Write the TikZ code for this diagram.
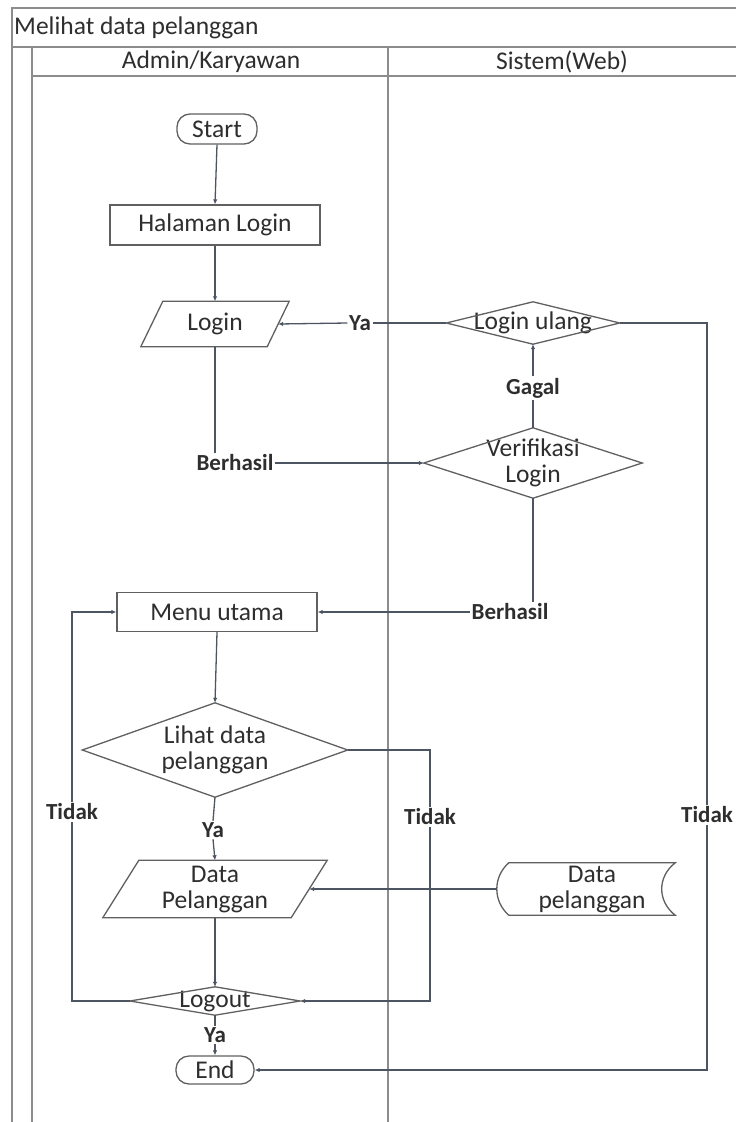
\documentclass[tikz,border=0pt]{standalone}
\usepackage{fontspec}
\setmainfont{Carlito}
\usetikzlibrary{arrows.meta,calc}
\definecolor{frm}{HTML}{8C8C8C}
\definecolor{ln}{HTML}{4D5563}
\definecolor{shp}{HTML}{606060}
\definecolor{txt}{HTML}{2E2E2E}
\begin{document}
\begin{tikzpicture}[x=1pt,y=-1pt,
  every node/.style={font=\fontsize{25.5}{26}\selectfont, text=txt},
  frame/.style={draw=frm, line width=1.8pt},
  box/.style={draw=shp, line width=1.3pt, inner sep=0pt},
  ghost/.style={draw=none, inner sep=0pt},
  term/.style={draw=shp, line width=1.3pt, rounded corners=13pt, inner sep=0pt},
  outl/.style={draw=shp, line width=1.3pt},
  conn/.style={draw=ln, line width=1.3pt},
  arr/.style={draw=ln, line width=1.3pt, -{Latex[length=5pt,width=4.5pt]}},
  lbl/.style={font=\bfseries\fontsize{23}{24}\selectfont, inner sep=1.5pt, fill=white, text=txt}
]
\useasboundingbox (0,0) rectangle (736,1122);
\fill[white] (0,0) rectangle (736,1122);

% frame / swimlanes
\draw[frame] (12,1122) -- (12,8) -- (736,8);
\draw[frame] (12,47) -- (736,47);
\draw[frame] (32,1122) -- (32,47);
\draw[frame] (32,76) -- (736,76);
\draw[frame] (388,47) -- (388,1122);
\node[anchor=west, inner sep=0pt] (title) at (14,28) {Melihat data pelanggan};
\node (h1) at (211,62) {Admin/Karyawan};
\node (h2) at (562,62) {Sistem(Web)};

% nodes
\node[term, minimum width=80pt, minimum height=30pt] (start) at (217,129) {Start};
\node[box, minimum width=210pt, minimum height=40pt] (hal) at (215,225) {Halaman Login};
\node[ghost, minimum width=126pt, minimum height=45pt] (login) at (215,324) {Login};
\draw[outl] ($(login.south west)+(-11,0)$) -- ($(login.south east)+(-11,0)$) -- ($(login.north east)+(11,0)$) -- ($(login.north west)+(11,0)$) -- cycle;

\node[ghost, minimum width=173pt, minimum height=42pt] (ulang) at (533,323) {Login ulang};
\draw[outl] (ulang.north) -- (ulang.east) -- (ulang.south) -- (ulang.west) -- cycle;

\node[ghost, minimum width=218pt, minimum height=70pt, align=center] (verif) at (533,463) {Verifikasi\\Login};
\draw[outl] (verif.north) -- (verif.east) -- (verif.south) -- (verif.west) -- cycle;

\node[box, minimum width=200pt, minimum height=39pt] (menu) at (217,612) {Menu utama};

\node[ghost, minimum width=265pt, minimum height=94pt, align=center] (lihat) at (215,750) {Lihat data\\pelanggan};
\draw[outl] (lihat.north) -- (lihat.east) -- (lihat.south) -- (lihat.west) -- cycle;

\node[ghost, minimum width=188pt, minimum height=57pt, align=center] (dp) at (215,889) {Data\\Pelanggan};
\draw[outl] ($(dp.south west)+(-18,0)$) -- ($(dp.south east)+(-18,0)$) -- ($(dp.north east)+(18,0)$) -- ($(dp.north west)+(18,0)$) -- cycle;

\node[ghost, minimum width=166pt, minimum height=52pt, align=center] (ds) at (592,889) {Data\\pelanggan};
\draw[outl] (ds.north west) -- (ds.north east)
  .. controls ($(ds.north east)+(-18,14)$) and ($(ds.south east)+(-18,-14)$) .. (ds.south east)
  -- (ds.south west)
  .. controls ($(ds.south west)+(-16,-14)$) and ($(ds.north west)+(-16,14)$) .. (ds.north west) -- cycle;
\coordinate (dsl) at ($(ds.west)+(-12,0)$);

\node[ghost, minimum width=170pt, minimum height=28pt] (logout) at (215,1001) {Logout};
\draw[outl] (logout.north) -- (logout.east) -- (logout.south) -- (logout.west) -- cycle;

\node[term, minimum width=78pt, minimum height=28pt] (end) at (215,1070) {End};

% labels
\node[lbl] (ya1) at (360,323) {Ya};
\node[lbl] (gagal) at (533,388) {Gagal};
\node[lbl] (b1) at (235,463) {Berhasil};
\node[lbl] (b2) at (510,612) {Berhasil};
\node[lbl] (ya2) at (213,830) {Ya};
\node[lbl] (t1) at (72,812) {Tidak};
\node[lbl] (t2) at (430,817) {Tidak};
\node[lbl] (t3) at (707,815) {Tidak};
\node[lbl] (ya3) at (215,1035) {Ya};

% connectors
\draw[arr] (start.south) -- (hal.north);
\draw[arr] (hal.south) -- (login.north);
\draw[conn] (login.south) -- (login.south |- b1.north);
\draw[arr] (b1.east) -- (verif.west);
\draw[conn] (verif.north) -- (gagal.south);
\draw[arr] (gagal.north) -- (ulang.south);
\draw[conn] (ulang.west) -- (ya1.east);
\draw[arr] (ya1.west) -- (login.east);
\draw[conn] (ulang.east) -| (t3.north);
\draw[arr] (t3.south) |- (end.east);
\draw[conn] (verif.south) -- (verif.south |- b2.north);
\draw[arr] (b2.west) -- (menu.east);
\draw[arr] (menu.south) -- (lihat.north);
\draw[conn] (lihat.east) -| (t2.north);
\draw[arr] (t2.south) |- (logout.east);
\draw[conn] (lihat.south) -- (ya2.north);
\draw[arr] (ya2.south) -- (dp.north);
\draw[arr] (dsl) -- (dp.east);
\draw[arr] (dp.south) -- (logout.north);
\draw[conn] (logout.west) -| (t1.south);
\draw[arr] (t1.north) |- (menu.west);
\draw[conn] (logout.south) -- (ya3.north);
\draw[arr] (ya3.south) -- (end.north);
\end{tikzpicture}
\end{document}
